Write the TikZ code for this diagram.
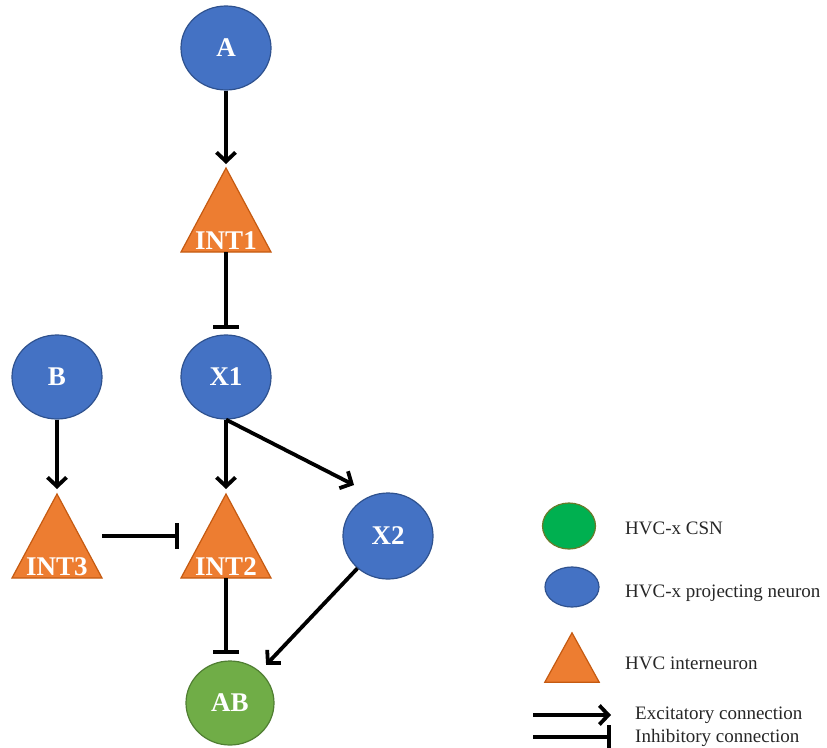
\documentclass[tikz,border=0pt]{standalone}
\usepackage{fontspec}
\setmainfont{Liberation Serif}
\usetikzlibrary{arrows.meta,shapes.geometric}

\definecolor{pnfill}{HTML}{4472C4}
\definecolor{pnline}{HTML}{2F528F}
\definecolor{infill}{HTML}{ED7D31}
\definecolor{inline}{HTML}{C55A11}
\definecolor{abfill}{HTML}{70AD47}
\definecolor{abline}{HTML}{507E32}
\definecolor{csnfill}{HTML}{00B050}
\definecolor{csnline}{HTML}{6A7A2A}
\definecolor{legtext}{HTML}{262626}

\begin{document}
\begin{tikzpicture}[x=1pt,y=-1pt,
  neuron/.style={ellipse, minimum width=90pt, minimum height=84pt, inner sep=0pt,
    line width=1.2pt, text=white, font=\fontsize{27}{27}\selectfont\bfseries},
  proj/.style={neuron, fill=pnfill, draw=pnline},
  csn/.style={neuron, fill=abfill, draw=abline},
  trinode/.style={minimum width=90pt, minimum height=84pt, inner sep=0pt, outer sep=0pt},
  trishape/.style={fill=infill, draw=inline, line width=1.2pt, line join=miter},
  trilabel/.style={anchor=base, text=white, inner sep=0pt, font=\fontsize{27}{27}\selectfont\bfseries},
  exc/.style={line width=3.8pt, -{Straight Barb[length=9pt,width=19pt]}},
  inh/.style={line width=3.8pt, -{Bar[width=26pt,line width=4.5pt]}},
  legend/.style={anchor=west, inner sep=0pt, text=legtext, font=\fontsize{19}{19}\selectfont},
]
\useasboundingbox (0,0) rectangle (827,747);

% ---------- neurons ----------
\node[proj] (A)  at (226,48)  {A};
\node[proj] (B)  at (57,377)  {B};
\node[proj] (X1) at (226,377) {X1};
\node[proj, minimum height=86pt] (X2) at (388,536) {X2};
\node[csn, minimum width=88pt] (AB) at (230,703) {AB};

% ---------- interneurons (triangles) ----------
\node[trinode] (INT1) at (226,210) {};
\node[trinode] (INT3) at (57,536)  {};
\node[trinode] (INT2) at (226,536) {};
\foreach \t/\lbl in {INT1/INT1, INT3/INT3, INT2/INT2} {
  \draw[trishape] (\t.south west) -- (\t.north) -- (\t.south east) -- cycle;
  \node[trilabel] at ([yshift=3pt]\t.south) {\lbl};
}

% ---------- connections ----------
\coordinate (X2in) at (354,485);
\draw[exc, shorten >=4pt] (A) -- (INT1.north);
\draw[inh, shorten >=5pt] (INT1.south) -- (X1.north);
\draw[exc, shorten >=5pt] (B) -- (INT3.north);
\draw[exc, shorten >=5pt] (X1.south) -- (INT2.north);
\draw[exc] (X1.south) -- (X2in);
\draw[inh, shorten >=2pt] (INT3.east) -- (INT2.west);
\draw[inh, shorten >=6pt] (INT2.south) -- (INT2.south |- AB.north);
\draw[exc, shorten >=9pt] (X2) -- (AB);

% ---------- legend ----------
\node[ellipse, minimum width=53pt, minimum height=46pt, inner sep=0pt,
      fill=csnfill, draw=csnline, line width=1.2pt] (Lcsn) at (569,526) {};
\node[ellipse, minimum width=54pt, minimum height=40pt, inner sep=0pt,
      fill=pnfill, draw=pnline, line width=1.2pt] (Lproj) at (572,587) {};
\node[minimum width=54pt, minimum height=49pt, inner sep=0pt] (Lint) at (572,657.5) {};
\draw[trishape] (Lint.south west) -- (Lint.north) -- (Lint.south east) -- cycle;

\node[legend] (Tcsn)  at (625,528) {HVC-x CSN};
\node[legend] (Tproj) at (625,593) {HVC-x projecting neuron};
\node[legend] (Tint)  at (625,663) {HVC interneuron};

\coordinate (Lexc0) at (533,715);
\coordinate (Lexc1) at (611,715);
\coordinate (Linh0) at (533,737);
\coordinate (Linh1) at (611,737);
\draw[exc] (Lexc0) -- (Lexc1);
\draw[line width=3.8pt, -{Bar[width=24pt,line width=4.5pt]}] (Linh0) -- (Linh1);
\node[legend] (Texc) at (635,715) {Excitatory connection};
\node[legend] (Tinh) at (635,738) {Inhibitory connection};
\end{tikzpicture}
\end{document}
